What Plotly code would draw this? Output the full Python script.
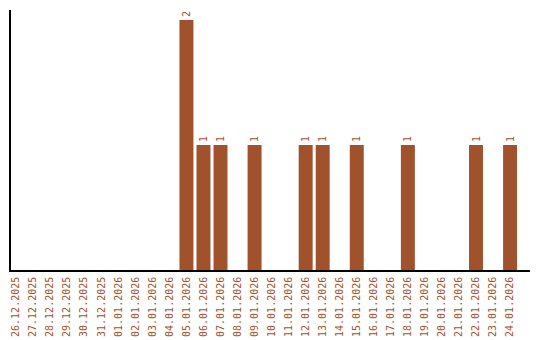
import plotly.graph_objects as go

dates = ["26.12.2025", "27.12.2025", "28.12.2025", "29.12.2025", "30.12.2025", "31.12.2025",
         "01.01.2026", "02.01.2026", "03.01.2026", "04.01.2026", "05.01.2026", "06.01.2026",
         "07.01.2026", "08.01.2026", "09.01.2026", "10.01.2026", "11.01.2026", "12.01.2026",
         "13.01.2026", "14.01.2026", "15.01.2026", "16.01.2026", "17.01.2026", "18.01.2026",
         "19.01.2026", "20.01.2026", "21.01.2026", "22.01.2026", "23.01.2026", "24.01.2026"]
counts = [0, 0, 0, 0, 0, 0, 0, 0, 0, 0, 2, 1, 1, 0, 1, 0, 0, 1, 1, 0, 1, 0, 0, 1, 0, 0, 0, 1, 0, 1]

color = "#A0522D"
font = "DejaVu Sans Mono"
labels = [str(v) if v > 0 else "" for v in counts]

fig = go.Figure(go.Bar(
    x=dates, y=counts, marker_color=color, marker_line_width=0, width=0.82,
    text=labels, textposition="outside", textangle=-90,
    textfont=dict(family=font, size=10, color=color), cliponaxis=False,
))
fig.update_layout(
    width=540, height=340, margin=dict(l=11, r=10, t=10, b=70),
    paper_bgcolor="white", plot_bgcolor="white", showlegend=False,
    font=dict(family=font, size=10, color=color),
    uniformtext=dict(minsize=10, mode="show"),
)
fig.update_xaxes(type="category", range=[-0.3, 30.17], tickangle=-90, showline=True,
                 linecolor="black", linewidth=1.5, ticks="", showgrid=False, automargin=False,
                 ticklabelstandoff=1,
                 tickfont=dict(family=font, size=10, color=color))
fig.update_yaxes(range=[0, 2.08], showline=True, linecolor="black", linewidth=1.5,
                 showticklabels=False, ticks="", showgrid=False, zeroline=False, automargin=False)
fig.write_html("out.html")
